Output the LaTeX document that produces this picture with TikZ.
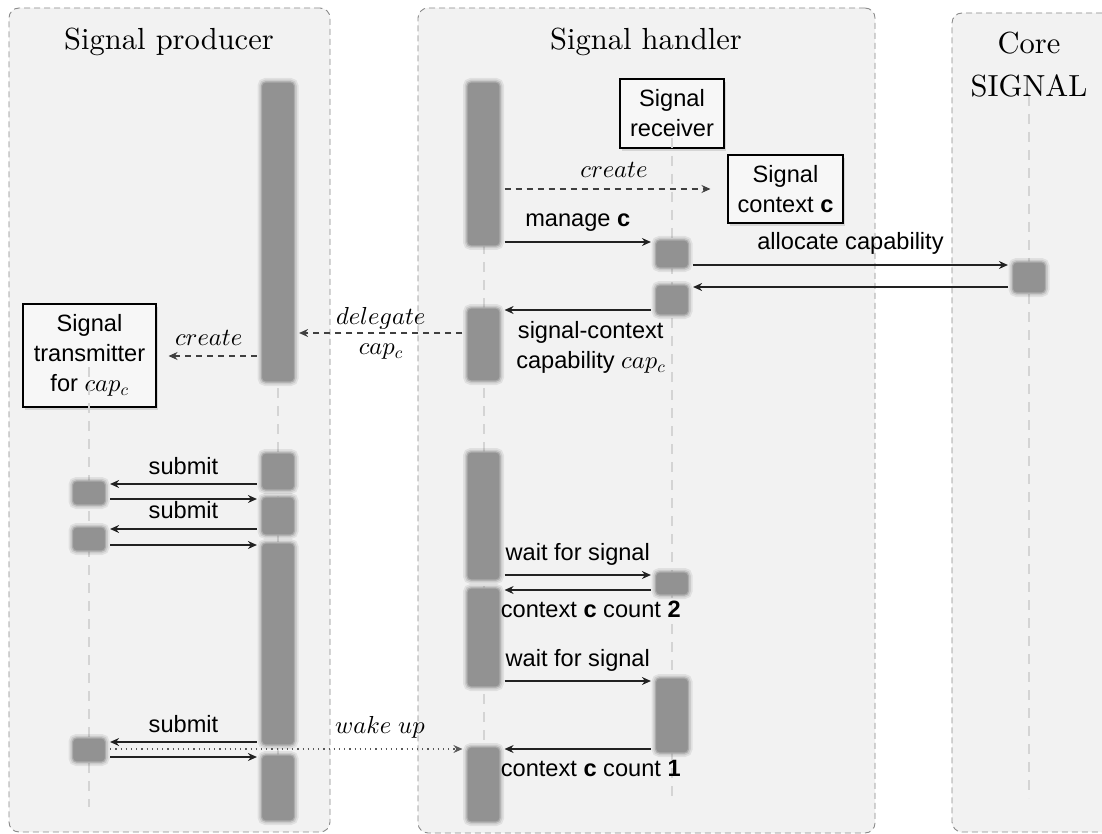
\documentclass[tikz,border=0pt]{standalone}
\usepackage{fix-cm}
\DeclareFontShape{OML}{cmm}{m}{it}{<->cmmi10}{}
\usepackage{fontspec}
\newfontfamily\labfont{Liberation Sans}
\newfontfamily\titlefont{lmroman10-regular}[Extension=.otf]
\newcommand\mth[1]{{\fontsize{24.6}{30}\selectfont$#1$}}
\usetikzlibrary{arrows.meta,shadows,calc}
\definecolor{lanefill}{HTML}{F2F2F2}
\definecolor{laneline}{HTML}{8A8A8A}
\definecolor{lifecol}{HTML}{D4D4D4}
\definecolor{barfill}{HTML}{929292}
\definecolor{barline}{HTML}{ABABAB}
\definecolor{boxfill}{HTML}{F7F7F7}
\definecolor{arrowcol}{HTML}{222222}
\tikzset{
 lane/.style={draw=laneline, fill=lanefill, dash pattern=on 6pt off 4pt, line width=0.9pt, rounded corners=10pt, inner sep=0pt},
 titletext/.style={font=\titlefont\fontsize{30.5}{43}\selectfont, inner sep=0pt},
 lbl/.style={font=\labfont\fontsize{23.6}{30}\selectfont, inner sep=0pt, text=black},
 objbox/.style={draw=black, fill=boxfill, line width=1.1pt, inner sep=0pt, align=center,
   font=\labfont\fontsize{23.6}{30}\selectfont,
   drop shadow={shadow xshift=2pt, shadow yshift=-3pt, opacity=0.25}},
 actbar/.style={fill=barfill, draw=barline, line width=1.2pt, rounded corners=4pt, minimum width=33pt, inner sep=0pt,
   preaction={draw=black, opacity=0.07, line width=8pt},
   preaction={draw=black, opacity=0.09, line width=4.5pt}},
 lifeline/.style={draw=lifecol, line width=2pt, dash pattern=on 10pt off 8pt},
 msg/.style={draw=arrowcol, line width=1.1pt, -{Stealth[length=9pt,width=8pt,inset=3pt]}, shorten <=4pt, shorten >=4pt},
 dmsg/.style={msg, draw=black!75, line width=1.1pt, dash pattern=on 6pt off 5pt},
 omsg/.style={msg, draw=black!65, line width=1.1pt, dash pattern=on 1.2pt off 4pt},
}
\begin{document}
\begin{tikzpicture}[x=1pt,y=-1pt]
\useasboundingbox[fill=white] (0,0) rectangle (1102,834);
% lanes
\node[lane, minimum width=321pt, minimum height=824pt] (laneP) at (169.5,420) {};
\node[lane, minimum width=457pt, minimum height=825pt] (laneH) at (646.5,420.5) {};
\node[lane, minimum width=170pt, minimum height=819pt] (laneC) at (1037,422.5) {};
% titles
\node[titletext, anchor=base] (tP) at (169,50) {Signal producer};
\node[titletext, anchor=base] (tH) at (646,50) {Signal handler};
\node[titletext, anchor=north, align=center] (tC) at (1029,32.2) {Core\\SIGNAL};
% object boxes
\node[objbox, minimum width=104pt, minimum height=69pt] (recv) at (672,113.5) {Signal\\receiver};
\node[objbox, minimum width=115pt, minimum height=68pt] (ctx) at (785.5,189) {Signal\\context \textbf{c}};
\node[objbox, minimum width=133pt, minimum height=103pt] (trans) at (89.5,355.5) {Signal\\transmitter\\for \mth{cap_c}};
% lifeline ends
\coordinate (pTop) at (278,82);
\coordinate (pEnd) at (278,807);
\coordinate (tTop) at (89,367);
\coordinate (tEnd) at (89,807);
\coordinate (hTop) at (483.5,82);
\coordinate (hEnd) at (483.5,807);
\coordinate (rTop) at (672,138);
\coordinate (rEnd) at (672,798);
\coordinate (cTop) at (1029,96);
\coordinate (cEnd) at (1029,798);
\draw[lifeline] (pTop) -- (pEnd);
\draw[lifeline] (tTop) -- (tEnd);
\draw[lifeline] (hTop) -- (hEnd);
\draw[lifeline] (rTop) -- (rEnd);
\draw[lifeline] (cTop) -- (cEnd);
% activation bars: producer
\node[actbar, minimum height=300pt] (pb1) at (278,232) {};
\node[actbar, minimum height=37pt] (pb2) at (278,471.5) {};
\node[actbar, minimum height=38pt] (pb3) at (278,516) {};
\node[actbar, minimum height=202pt] (pb4) at (278,644) {};
\node[actbar, minimum height=66pt] (pb5) at (278,788) {};
% transmitter
\node[actbar, minimum height=24pt] (tb1) at (89,493) {};
\node[actbar, minimum height=24pt] (tb2) at (89,539) {};
\node[actbar, minimum height=24pt] (tb3) at (89,750) {};
% handler
\node[actbar, minimum height=164pt] (hb1) at (483.5,164) {};
\node[actbar, minimum height=73pt] (hb2) at (483.5,344.5) {};
\node[actbar, minimum height=128pt] (hb3) at (483.5,516) {};
\node[actbar, minimum height=99pt] (hb4) at (483.5,637.5) {};
\node[actbar, minimum height=75pt] (hb5) at (483.5,784.5) {};
% receiver
\node[actbar, minimum height=28pt] (rb1) at (672,254) {};
\node[actbar, minimum height=30pt] (rb2) at (672,300) {};
\node[actbar, minimum height=23pt] (rb3) at (672,583.5) {};
\node[actbar, minimum height=75pt] (rb4) at (672,715.5) {};
% core
\node[actbar, minimum height=31pt] (cb1) at (1029,277.5) {};
% messages
\draw[dmsg, shorten >=17pt] (hb1.east |- 0,189) -- (ctx.west |- 0,189)
  node[lbl, midway, anchor=base, yshift=11pt] {\mth{create}};
\draw[msg] (hb1.east |- 0,242) -- (rb1.west |- 0,242)
  node[lbl, midway, anchor=base, yshift=15pt] {manage \textbf{c}};
\draw[msg] (rb1.east |- 0,265) -- (cb1.west |- 0,265)
  node[lbl, midway, anchor=base, yshift=15pt] {allocate capability};
\draw[msg] (cb1.west |- 0,287) -- (rb2.east |- 0,287);
\draw[msg] (rb2.west |- 0,310) -- (hb2.east |- 0,310)
  node[lbl, midway, anchor=north, align=center, xshift=13pt, yshift=-11pt] {signal-context\\capability \mth{cap_c}};
\draw[dmsg] (hb2.west |- 0,333) -- (pb1.east |- 0,333)
  node[lbl, midway, anchor=north, align=center, yshift=26pt] {\mth{delegate}\\\mth{cap_c}};
\draw[dmsg, shorten >=12pt] (pb1.west |- 0,356) -- (trans.east |- 0,356)
  node[lbl, midway, anchor=base, yshift=11pt] {\mth{create}};
\draw[msg] (pb2.west |- 0,484) -- (tb1.east |- 0,484)
  node[lbl, midway, anchor=base, yshift=10pt] {submit};
\draw[msg] (tb1.east |- 0,499) -- (pb3.west |- 0,499);
\draw[msg] (pb3.west |- 0,529) -- (tb2.east |- 0,529)
  node[lbl, midway, anchor=base, yshift=11pt] {submit};
\draw[msg] (tb2.east |- 0,545) -- (pb4.west |- 0,545);
\draw[msg] (pb4.west |- 0,742) -- (tb3.east |- 0,742)
  node[lbl, midway, anchor=base, yshift=10pt] {submit};
\draw[msg] (tb3.east |- 0,757) -- (pb5.west |- 0,757);
\draw[omsg] (tb3.east |- 0,749) -- (hb5.west |- 0,749)
  node[lbl, pos=0.76, anchor=base, yshift=16pt] {\mth{wake\ up}};
\draw[msg] (hb3.east |- 0,575) -- (rb3.west |- 0,575)
  node[lbl, midway, anchor=base, yshift=15pt] {wait for signal};
\draw[msg] (rb3.west |- 0,590) -- (hb4.east |- 0,590)
  node[lbl, midway, anchor=base, xshift=13pt, yshift=-27pt] {context \textbf{c} count \textbf{2}};
\draw[msg] (hb4.east |- 0,681) -- (rb4.west |- 0,681)
  node[lbl, midway, anchor=base, yshift=15pt] {wait for signal};
\draw[msg] (rb4.west |- 0,749) -- (hb5.east |- 0,749)
  node[lbl, midway, anchor=base, xshift=13pt, yshift=-27pt] {context \textbf{c} count \textbf{1}};
\end{tikzpicture}
\end{document}
